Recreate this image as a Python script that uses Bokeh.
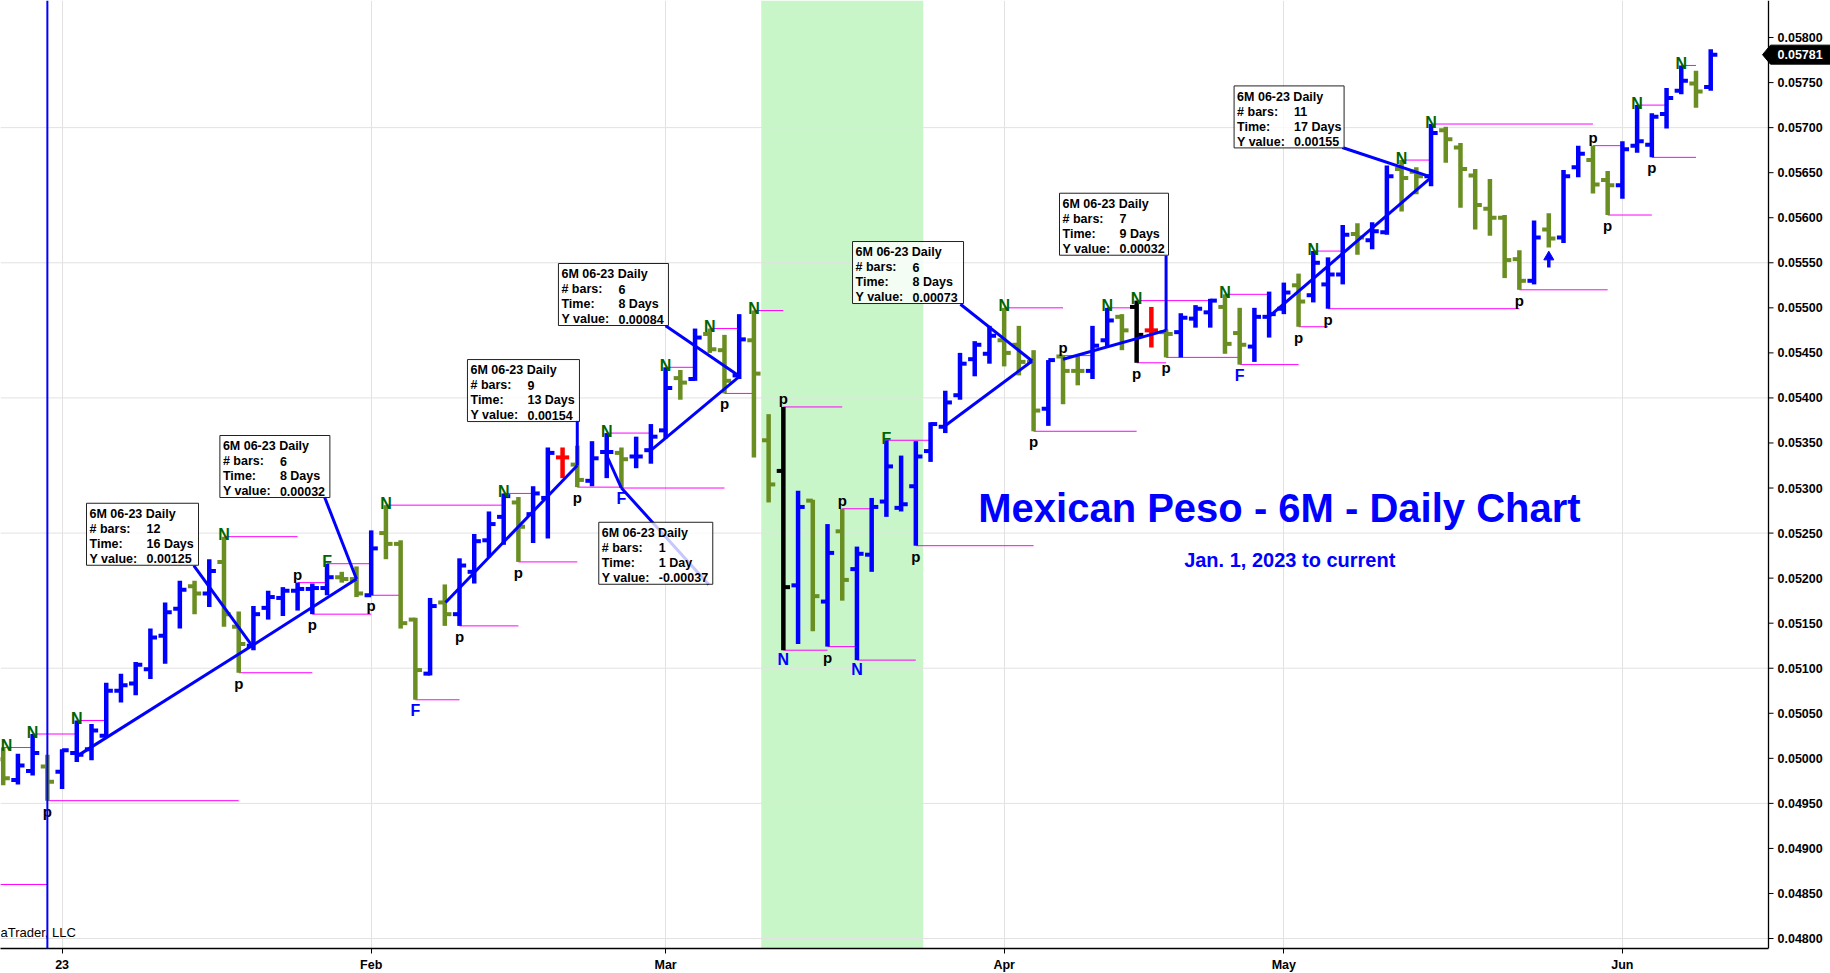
from bokeh.plotting import figure
from bokeh.models import FixedTicker, BoxAnnotation, Span, Range1d, ColumnDataSource
from bokeh.core.properties import value
from bokeh.embed import file_html
from bokeh.resources import INLINE

# ---------------- data ----------------
opens = [0.04999,0.04976,0.04986,0.04991,0.04985,0.05006,0.05010,0.05025,0.05075,0.05083,
         0.05099,0.05136,0.05166,0.05191,0.05183,0.05218,0.05146,0.05125,0.05167,0.05178,
         0.05186,0.05188,0.05189,0.05201,0.05199,0.05181,0.05250,0.05238,0.05154,0.05094,
         0.05173,0.05160,0.05207,0.05242,0.05268,0.05284,0.05271,0.05289,0.05334,0.05326,
         0.05308,0.05340,0.05339,0.05335,0.05342,0.05364,0.05422,0.05421,0.05471,0.05453,
         0.05425,0.05464,0.05353,0.05319,0.05192,0.05286,0.05174,0.05252,0.05210,0.05226,
         0.05285,0.05278,0.05302,0.05341,0.05368,0.05403,0.05443,0.05449,0.05464,0.05459,
         0.05440,0.05388,0.05446,0.05430,0.05430,0.05464,0.05490,0.05501,0.05475,0.05473,
         0.05473,0.05488,0.05495,0.05501,0.05472,0.05457,0.05490,0.05499,0.05525,0.05514,
         0.05526,0.05537,0.05582,0.05575,0.05584,0.05654,0.05651,0.05646,0.05697,0.05678,
         0.05647,0.05610,0.05600,0.05554,0.05530,0.05587,0.05578,0.05656,0.05664,0.05642,
         0.05636,0.05680,0.05681,0.05715,0.05741,0.05749,0.05745]
highs = [0.05012,0.05005,0.05027,0.05004,0.05010,0.05042,0.05038,0.05084,0.05094,0.05107,
         0.05144,0.05173,0.05197,0.05197,0.05221,0.05246,0.05163,0.05169,0.05186,0.05190,
         0.05195,0.05194,0.05216,0.05207,0.05213,0.05253,0.05281,0.05242,0.05156,0.05178,
         0.05193,0.05222,0.05249,0.05274,0.05294,0.05290,0.05302,0.05345,0.05345,0.05347,
         0.05352,0.05361,0.05345,0.05357,0.05371,0.05434,0.05431,0.05477,0.05477,0.05470,
         0.05493,0.05497,0.05382,0.05390,0.05297,0.05287,0.05260,0.05277,0.05235,0.05289,
         0.05353,0.05336,0.05352,0.05373,0.05408,0.05450,0.05463,0.05480,0.05500,0.05480,
         0.05453,0.05442,0.05447,0.05447,0.05480,0.05500,0.05493,0.05508,0.05501,0.05476,
         0.05494,0.05503,0.05510,0.05515,0.05500,0.05500,0.05518,0.05528,0.05538,0.05563,
         0.05556,0.05592,0.05594,0.05595,0.05658,0.05664,0.05656,0.05704,0.05701,0.05683,
         0.05654,0.05643,0.05603,0.05564,0.05597,0.05605,0.05653,0.05680,0.05680,0.05652,
         0.05685,0.05725,0.05716,0.05744,0.05769,0.05763,0.05787]
lows = [0.04970,0.04971,0.04981,0.04953,0.04966,0.04996,0.04998,0.05023,0.05062,0.05070,
        0.05088,0.05105,0.05144,0.05160,0.05168,0.05146,0.05095,0.05120,0.05154,0.05158,
        0.05164,0.05160,0.05181,0.05195,0.05179,0.05181,0.05221,0.05144,0.05065,0.05092,
        0.05147,0.05147,0.05194,0.05223,0.05237,0.05218,0.05239,0.05244,0.05311,0.05301,
        0.05302,0.05311,0.05300,0.05322,0.05327,0.05355,0.05398,0.05419,0.05450,0.05405,
        0.05421,0.05334,0.05284,0.05120,0.05127,0.05141,0.05124,0.05175,0.05109,0.05207,
        0.05268,0.05274,0.05236,0.05329,0.05361,0.05398,0.05424,0.05438,0.05435,0.05425,
        0.05363,0.05369,0.05393,0.05414,0.05421,0.05457,0.05453,0.05439,0.05456,0.05445,
        0.05445,0.05478,0.05478,0.05449,0.05437,0.05440,0.05467,0.05493,0.05479,0.05506,
        0.05499,0.05526,0.05559,0.05565,0.05581,0.05607,0.05626,0.05635,0.05661,0.05611,
        0.05587,0.05580,0.05533,0.05520,0.05526,0.05567,0.05572,0.05645,0.05627,0.05603,
        0.05621,0.05672,0.05667,0.05699,0.05737,0.05722,0.05741]
closes = [0.04978,0.04992,0.05006,0.04974,0.05009,0.05004,0.05031,0.05075,0.05081,0.05104,
          0.05134,0.05162,0.05187,0.05183,0.05208,0.05160,0.05127,0.05160,0.05179,0.05186,
          0.05188,0.05189,0.05201,0.05199,0.05183,0.05233,0.05238,0.05150,0.05098,0.05169,
          0.05160,0.05214,0.05241,0.05260,0.05291,0.05257,0.05294,0.05339,0.05334,0.05309,
          0.05333,0.05340,0.05332,0.05335,0.05357,0.05411,0.05417,0.05467,0.05454,0.05419,
          0.05465,0.05427,0.05304,0.05190,0.05279,0.05180,0.05228,0.05198,0.05227,0.05279,
          0.05324,0.05282,0.05335,0.05371,0.05395,0.05438,0.05459,0.05469,0.05450,0.05440,
          0.05386,0.05442,0.05430,0.05430,0.05458,0.05486,0.05475,0.05470,0.05475,0.05471,
          0.05489,0.05499,0.05508,0.05460,0.05459,0.05490,0.05493,0.05517,0.05507,0.05550,
          0.05537,0.05581,0.05578,0.05585,0.05646,0.05644,0.05646,0.05694,0.05687,0.05654,
          0.05614,0.05600,0.05553,0.05530,0.05578,0.05577,0.05646,0.05671,0.05637,0.05636,
          0.05676,0.05685,0.05712,0.05733,0.05752,0.05740,0.05781]
bar_kind = list("GBBGBBBBBB" "BBBGBGGBBB" "BBBGGBGGGB" "GBBBBGBBRG" "BBGBBBGBGG"
                "BGGKBGBGBB" "BBBBBBBBGG" "GBGGBBGKRG" "BBBGGBBBGB" "BBGBBGGBGG"
                "GGGGBGBBGG" "BBBBBGB")

month_idx = [5, 26, 46, 69, 88, 111]
month_lbl = ["23", "Feb", "Mar", "Apr", "May", "Jun"]
y_ticks = [round(0.048 + 0.0005 * k, 5) for k in range(21)]
grid_levels = [0.0480, 0.0495, 0.0510, 0.0525, 0.0540, 0.0555, 0.0570]

# support / resistance levels: start bar, end bar, price
lvl_start = [0.8, 1, 3, 6, 4, 16, 17, 21, 22, 23, 26, 27, 29, 32, 35, 36, 40, 43, 42, 50,
             46, 49, 52, 54, 54, 57, 59, 58, 61, 63, 69, 71, 73, 76, 78, 78, 80, 84, 85, 90,
             89, 91, 96, 98, 104, 109, 110, 112, 113, 115]
lvl_end = [4, 3, 6, 8, 17, 21, 22, 23, 26, 26, 28, 35, 32, 36, 37, 40, 43, 50, 45, 52,
           48, 51, 54, 58, 57, 59, 63, 60, 64, 71, 73, 78, 75, 78, 83, 80, 85, 87, 89, 92,
           91, 104, 98, 109, 110, 111, 113, 114, 116, 116]
lvl_value = [0.04860, 0.05012, 0.05027, 0.05042, 0.04953, 0.05246, 0.05095, 0.05195, 0.05160,
             0.05216, 0.05181, 0.05281, 0.05065, 0.05147, 0.05294, 0.05218, 0.05301, 0.05300,
             0.05361, 0.05405, 0.05434, 0.05477, 0.05497, 0.05390, 0.05120, 0.05124, 0.05109,
             0.05277, 0.05353, 0.05236, 0.05500, 0.05363, 0.05447, 0.05500, 0.05508, 0.05439,
             0.05445, 0.05515, 0.05437, 0.05563, 0.05479, 0.05499, 0.05664, 0.05704, 0.05520,
             0.05680, 0.05603, 0.05725, 0.05667, 0.05769]

n_up = [1, 3, 6, 16, 27, 35, 42, 46, 49, 52, 69, 76, 78, 84, 90, 96, 98, 112, 115]
n_dn = [54, 59]
f_up = [23, 61]
f_dn = [29, 43, 85]
p_dn = [4, 17, 22, 26, 32, 36, 40, 50, 57, 63, 71, 78, 80, 89, 91, 104, 110, 113]
p_up = [21, 54, 58, 73, 109]
arrow_idx = [106]
cursor_idx = 4
band_start, band_end = 52.5, 63.5

# measured trend lines (bar index, price)
trend_x0 = [6.07, 17.9, 31.05, 42.03, 45.02, 64.9, 73.0, 86.98]
trend_y0 = [0.05003, 0.05125, 0.05173, 0.05335, 0.05342, 0.05368, 0.05443, 0.05490]
trend_x1 = [17.9, 25.0, 40.0, 43.0, 51.02, 70.9, 80.0, 98.03]
trend_y1 = [0.05125, 0.05199, 0.05325, 0.05300, 0.05424, 0.05441, 0.05475, 0.05645]
conn_x0 = [13.95, 22.83, 40.0, 43.0, 46.0, 66.03, 80.0, 91.97]
conn_y0 = [0.05214, 0.05290, 0.05375, 0.05300, 0.05480, 0.05504, 0.05558, 0.05678]
conn_x1 = [17.9, 25.0, 40.0, 48.93, 51.02, 70.9, 80.0, 98.03]
conn_y1 = [0.05125, 0.05199, 0.05325, 0.05193, 0.05424, 0.05441, 0.05475, 0.05645]

box_bars = ["12", "6", "9", "1", "6", "6", "7", "11"]
box_time = ["16 Days", "8 Days", "13 Days", "1 Day", "8 Days", "8 Days", "9 Days", "17 Days"]
box_yval = ["0.00125", "0.00032", "0.00154", "-0.00037", "0.00084", "0.00073", "0.00032", "0.00155"]
box_left = [6.66, 15.72, 32.54, 41.46, 38.72, 58.7, 72.76, 84.62]
box_top = [0.052831, 0.053583, 0.054426, 0.052620, 0.055492, 0.055736, 0.056272, 0.057463]
box_wpx = [112, 110, 112, 114, 110, 111, 109, 110]

# ---------------- layout ----------------
FIG_W, H_FRAME = 1830, 948
PXB = 14.72                    # pixels per bar
PXU = 90100.0                  # pixels per price unit
X0 = 0.8166
X_AXIS = X0 + 1768 / PXB       # position of the price scale
X_END = X0 + FIG_W / PXB
Y1 = 0.058411
Y0 = Y1 - H_FRAME / PXU
FONT = "Liberation Sans"
BLUE, GREEN, DKGREEN, MAG = "#0000ff", "#6b8e23", "#006400", "#ff00ff"
GRID = "#e2e2e2"
kind_color = {"B": BLUE, "G": GREEN, "K": "#000000", "R": "#ff0000"}
TICK = 0.45

p = figure(frame_width=FIG_W, frame_height=H_FRAME,
           x_range=Range1d(X0, X_END), y_range=Range1d(Y0, Y1),
           y_axis_location=None, output_backend="svg", toolbar_location=None,
           min_border_left=0, min_border_top=0, min_border_right=0, min_border_bottom=25,
           background_fill_color="white", border_fill_color="white")
p.outline_line_color = None

# time axis
xa = p.xaxis[0]
xa.ticker = FixedTicker(ticks=month_idx)
xa.major_label_overrides = {m: l for m, l in zip(month_idx, month_lbl)}
xa.bounds = (X0, X_AXIS)
xa.major_label_text_font = FONT
xa.major_label_text_font_style = "bold"
xa.major_label_text_font_size = "12.5px"
xa.major_label_text_color = "black"
xa.major_tick_out = 5
xa.major_tick_in = 0
xa.minor_tick_line_color = None
xa.axis_line_color = "black"
xa.axis_line_width = 1.3
xa.major_label_standoff = 4
p.xgrid.ticker = FixedTicker(ticks=month_idx)
p.xgrid.grid_line_color = GRID
for g in p.ygrid:
    g.visible = False

p.add_layout(BoxAnnotation(left=band_start, right=band_end, fill_color="#c8f6c8",
                           fill_alpha=1.0, line_color=None, level="underlay"))
# horizontal grid (stops at the price scale)
p.segment(x0=[X0] * len(grid_levels), y0=grid_levels, x1=[X_AXIS] * len(grid_levels),
          y1=grid_levels, line_color=GRID, line_width=1)

# price scale on the right
p.segment(x0=[X_AXIS], y0=[Y0], x1=[X_AXIS], y1=[Y1], line_color="black", line_width=1.3)
p.segment(x0=[X_AXIS] * len(y_ticks), y0=y_ticks, x1=[X_AXIS + 5 / PXB] * len(y_ticks),
          y1=y_ticks, line_color="black", line_width=1)
p.text(x=[X_AXIS + 9 / PXB] * len(y_ticks), y=y_ticks, text=[f"{t:.5f}" for t in y_ticks],
       text_font=value(FONT), text_font_size="12.5px", text_font_style="bold",
       text_color="black", text_align="left", text_baseline="middle")

# levels
p.segment(x0=lvl_start, y0=lvl_value, x1=lvl_end, y1=lvl_value, line_color=MAG, line_width=1)

# OHLC bars
idx = list(range(1, len(opens) + 1))
src = ColumnDataSource(dict(x=idx, xl=[i - TICK for i in idx], xr=[i + TICK for i in idx],
                            o=opens, h=highs, l=lows, c=closes,
                            col=[kind_color[k] for k in bar_kind]))
p.segment(x0="x", y0="l", x1="x", y1="h", line_color="col", line_width=4.5, source=src)
p.segment(x0="xl", y0="o", x1="x", y1="o", line_color="col", line_width=4, source=src)
p.segment(x0="x", y0="c", x1="xr", y1="c", line_color="col", line_width=4, source=src)

# trend lines and connectors
p.segment(x0=trend_x0, y0=trend_y0, x1=trend_x1, y1=trend_y1, line_color=BLUE, line_width=3)
p.segment(x0=conn_x0, y0=conn_y0, x1=conn_x1, y1=conn_y1, line_color=BLUE, line_width=3)

# info boxes
BOX_H = 62
p.quad(left=box_left, right=[l + w / PXB for l, w in zip(box_left, box_wpx)],
       top=box_top, bottom=[t - BOX_H / PXU for t in box_top],
       fill_color="white", fill_alpha=0.78, line_color="#222222", line_width=1)
tx, ty, tt = [], [], []
for k in range(len(box_left)):
    l, t = box_left[k], box_top[k]
    rows = [("6M 06-23 Daily", None), ("# bars:", box_bars[k]), ("Time:", box_time[k]),
            ("Y value:", box_yval[k])]
    for r, (lab, val) in enumerate(rows):
        yy = t - (10.6 + 15 * r) / PXU
        tx.append(l + 3 / PXB); ty.append(yy); tt.append(lab)
        if val is not None:
            tx.append(l + 60 / PXB); ty.append(yy); tt.append(val)
p.text(x=tx, y=ty, text=tt, text_font=value(FONT), text_font_size="12.5px",
       text_font_style="bold", text_color="black", text_align="left", text_baseline="middle")

# bar markers
def marks(ids, txt, color, above, baseline, gap, size):
    xs = [max(i, X0 + 6 / PXB) for i in ids]
    ys = [(highs[i - 1] + gap / PXU) if above else (lows[i - 1] - gap / PXU) for i in ids]
    p.text(x=xs, y=ys, text=[txt] * len(ids), text_font=value(FONT), text_font_size=size,
           text_font_style="bold", text_color=color, text_align="center",
           text_baseline=baseline)

marks(n_up, "N", DKGREEN, True, "alphabetic", 2, "16px")
marks(f_up, "F", DKGREEN, True, "alphabetic", 2, "16px")
marks(n_dn, "N", BLUE, False, "top", 1, "16px")
marks(f_dn, "F", BLUE, False, "top", 2, "16px")
marks(p_dn, "p", "black", False, "top", 2, "15px")
marks(p_up, "p", "black", True, "bottom", 0, "15px")

# signal arrow
p.scatter(x=arrow_idx, y=[lows[i - 1] - 9.5 / PXU for i in arrow_idx], marker="triangle",
          size=10, fill_color=BLUE, line_color=BLUE)
p.segment(x0=arrow_idx, y0=[lows[i - 1] - 12 / PXU for i in arrow_idx],
          x1=arrow_idx, y1=[lows[i - 1] - 20 / PXU for i in arrow_idx],
          line_color=BLUE, line_width=3.5)

# cursor line
p.add_layout(Span(location=cursor_idx, dimension="height", line_color=BLUE, line_width=2))

# titles
p.text(x=[87.7], y=[0.052778], text=["Mexican Peso - 6M - Daily Chart"], text_font=value(FONT),
       text_font_size="40px", text_font_style="bold", text_color=BLUE,
       text_align="center", text_baseline="middle")
p.text(x=[88.4], y=[0.052206], text=["Jan. 1, 2023 to current"], text_font=value(FONT),
       text_font_size="20px", text_font_style="bold", text_color=BLUE,
       text_align="center", text_baseline="middle")
p.text(x=[X0], y=[Y1 - 932 / PXU], text=["aTrader, LLC"], text_font=value(FONT),
       text_font_size="13px", text_color="black", text_align="left", text_baseline="middle")

# last price marker
last = closes[-1]
hh = 9.5 / PXU
p.patch(x=[X_AXIS - 6 / PXB, X_AXIS + 2 / PXB, X_END, X_END, X_AXIS + 2 / PXB],
        y=[last, last + hh, last + hh, last - hh, last - hh],
        fill_color="black", line_color="black")
p.text(x=[X_AXIS + 9 / PXB], y=[last], text=[f"{last:.5f}"], text_font=value(FONT),
       text_font_size="12.5px", text_font_style="bold", text_color="white",
       text_align="left", text_baseline="middle")

open("out.html", "w").write(file_html(p, INLINE))
